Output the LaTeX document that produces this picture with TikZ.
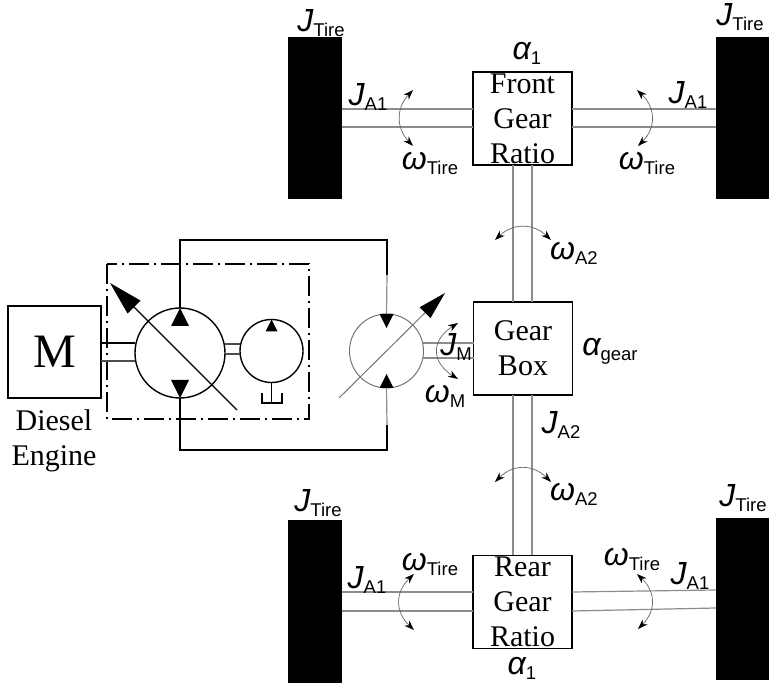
\documentclass[tikz,border=0pt]{standalone}
\usepackage{fontspec}
\setmainfont{Liberation Serif}
\setsansfont{Liberation Sans}
\usetikzlibrary{arrows.meta}
\newcommand{\qty}[2]{{\sffamily\fontsize{32}{32}\selectfont\itshape #1\raisebox{-5pt}{\fontsize{18.5}{18.5}\selectfont\upshape #2}}}
\tikzset{
    gearbox/.style={draw,line width=1.4pt,inner sep=0,outer sep=0,minimum width=99pt,minimum height=93pt},
    boxtext/.style={font=\fontsize{30}{35}\selectfont,align=center,inner sep=0},
    tire/.style={fill=black,inner sep=0,outer sep=0,minimum width=54pt,minimum height=162pt},
    shaft/.style={draw=black!45,line width=1.2pt},
    spin/.style={draw=black!60,line width=0.7pt,{Stealth[black,length=10pt,width=7pt]}-{Stealth[black,length=10pt,width=7pt]}},
    hyd/.style={draw,line width=1.4pt,inner sep=0,outer sep=0,circle},
    pipe/.style={line width=1.4pt},
    adjust/.style={line width=1.2pt,-{Stealth[length=34pt,width=18pt,inset=0pt]}}
}
\begin{document}
\begin{tikzpicture}[x=1pt,y=-1pt]
            \useasboundingbox (0,0) rectangle (769,684);
            \node[tire] (tireFL) at (315,118.5) {};
            \node[tire] (tireFR) at (743,118.5) {};
            \node[tire] (tireRL) at (315,601.5) {};
            \node[tire] (tireRR) at (743,599) {};
            \node[gearbox] (frontbox) at (522.5,118.5) {};
            \node[gearbox] (gearbox) at (523,348.5) {};
            \node[gearbox] (rearbox) at (522.5,602) {};
            \node[boxtext] (fronttext) at (frontbox) {Front\\Gear\\Ratio};
            \node[boxtext] (geartext) at (gearbox) {Gear\\Box};
            \node[boxtext] (reartext) at (rearbox) {Rear\\Gear\\Ratio};
            \node[draw,line width=1.4pt,inner sep=0,outer sep=0,minimum width=93pt,minimum height=92pt,font=\fontsize{48}{48}\selectfont] (engine) at (54.5,352) {M};
            \node[boxtext,anchor=north] (enginetext) at (54,409) {Diesel\\Engine};

            \draw[shaft] (tireFL.east |- 0,109) -- (frontbox.west |- 0,109);
            \draw[shaft] (tireFL.east |- 0,127) -- (frontbox.west |- 0,127);
            \draw[shaft] (frontbox.east |- 0,109) -- (tireFR.west |- 0,109);
            \draw[shaft] (frontbox.east |- 0,127) -- (tireFR.west |- 0,127);
            \draw[shaft] (tireRL.east |- 0,592) -- (rearbox.west |- 0,592);
            \draw[shaft] (tireRL.east |- 0,611) -- (rearbox.west |- 0,611);
            \draw[shaft] (rearbox.east |- 0,592) -- (tireRR.west |- 0,590);
            \draw[shaft] (rearbox.east |- 0,611) -- (tireRR.west |- 0,608);
            \draw[shaft] (frontbox.south -| 513,0) -- (gearbox.north -| 513,0);
            \draw[shaft] (frontbox.south -| 532,0) -- (gearbox.north -| 532,0);
            \draw[shaft] (gearbox.south -| 513,0) -- (rearbox.north -| 513,0);
            \draw[shaft] (gearbox.south -| 532,0) -- (rearbox.north -| 532,0);

            \node[hyd,minimum size=90pt] (pump) at (180,353) {};
            \node[hyd,minimum size=63pt] (charge) at (271.5,351) {};
            \node[hyd,minimum size=74pt,draw=black!55,line width=1pt] (motor) at (386.5,351) {};

            \draw[line width=1.2pt,dash pattern=on 20pt off 5pt on 2pt off 5pt] (107,264) rectangle (309,419);
            \draw[pipe] (engine.east |- 0,343) -- (pump.west |- 0,343);
            \draw[pipe,black!70] (engine.east |- 0,361) -- (pump.west |- 0,361);
            \draw[pipe,black!70] (225,344) -- (charge.west |- 0,344);
            \draw[pipe,black!70] (225,354) -- (charge.west |- 0,354);
            \draw[shaft] (423,343) -- (gearbox.west |- 0,343);
            \draw[shaft] (423,358) -- (gearbox.west |- 0,358);

            \draw[pipe] (pump.north) -- (180,240) -- (387,240) -- (387,275);
            \draw[shaft] (387,275) -- (motor.north);
            \draw[pipe] (pump.south) -- (180,450) -- (387,450) -- (387,425);
            \draw[shaft] (387,425) -- (motor.south);
            \fill (pump.north) -- ++(-9,18) -- ++(18,0) -- cycle;
            \fill (pump.south) -- ++(-9,-18) -- ++(18,0) -- cycle;
            \fill (charge.north) ++(0,0) -- ++(-6,12) -- ++(12,0) -- cycle;
            \fill (motor.north) ++(-7,0) -- ++(14,0) -- ++(-7,14) -- cycle;
            \fill (motor.south) ++(-7,0) -- ++(14,0) -- ++(-7,-14) -- cycle;
            \draw[adjust] (237,410) -- (110,283);
            \draw[adjust,line width=1pt,black!55,-{Stealth[black,length=28pt,width=15pt,inset=0pt]}] (339,398) -- (445,293);
            \draw[line width=1.2pt] (charge.south) -- (271.5,403);
            \draw[line width=1.2pt] (262,393) -- (262,403) -- (282,403) -- (282,393);

            \draw[spin] (413,90) .. controls (396,108) and (396,128) .. (413,146);
            \draw[spin] (637,90) .. controls (656,108) and (656,128) .. (638,146);
            \draw[spin] (414,574) .. controls (395,592) and (395,612) .. (414,630);
            \draw[spin] (637,574) .. controls (656,592) and (656,611) .. (638,629);
            \draw[spin] (495,240) .. controls (513,223) and (533,223) .. (551,240);
            \draw[spin] (495,482) .. controls (513,464) and (533,464) .. (551,482);
            \draw[spin] (458,323) .. controls (431,340) and (431,362) .. (458,379);

            \node (JtireFL) at (321,23) {\qty{J}{Tire}};
            \node (JtireFR) at (740,17) {\qty{J}{Tire}};
            \node (JtireRL) at (318,503) {\qty{J}{Tire}};
            \node (JtireRR) at (743,498) {\qty{J}{Tire}};
            \node (alphaF) at (527,53) {\qty{α}{1}};
            \node[inner sep=0] (alphaR) at (522,668) {\qty{α}{1}};
            \node (alphaG) at (610,351) {\qty{α}{gear}};
            \node (JaFL) at (368,97) {\qty{J}{A1}};
            \node (JaFR) at (688,95) {\qty{J}{A1}};
            \node (JaRL) at (367,580) {\qty{J}{A1}};
            \node (JaRR) at (690,576) {\qty{J}{A1}};
            \node (wFL) at (430,163) {\qty{ω}{Tire}};
            \node (wFR) at (647,163) {\qty{ω}{Tire}};
            \node (wRL) at (430,564) {\qty{ω}{Tire}};
            \node (wRR) at (632,559) {\qty{ω}{Tire}};
            \node (wA2up) at (574,253) {\qty{ω}{A2}};
            \node (wA2low) at (574,494) {\qty{ω}{A2}};
            \node (JA2) at (561,425) {\qty{J}{A2}};
            \node (JM) at (456,347) {\qty{J}{M}};
            \node (wM) at (445,396) {\qty{ω}{M}};
        \end{tikzpicture}
\end{document}
